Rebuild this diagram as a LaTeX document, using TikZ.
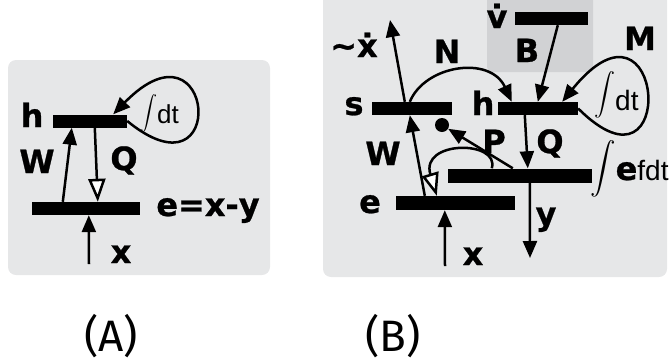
\documentclass[tikz,border=0pt]{standalone}
\usepackage{graphicx}
\usepackage{fontspec}
\setmainfont{Liberation Sans}
\newfontfamily\lblfont[FakeBold=0.8]{DejaVu Sans Bold}
\newfontfamily\capfont{Fira Sans}
\usetikzlibrary{arrows.meta}
\definecolor{panel}{HTML}{E6E7E8}
\definecolor{boxB}{HTML}{D1D2D4}
% scaled integral sign: #1 scale, #2 lift
\newcommand{\bigint}[2]{\raisebox{#2}{\scalebox{#1}{$\displaystyle\int$}}}
\begin{document}
\begin{tikzpicture}[x=1pt, y=-1pt,
		bar/.style = {fill=black, inner sep=0pt, minimum height=13pt},
		lbl/.style = {font=\lblfont\fontsize{32}{32}\selectfont, inner sep=0pt, anchor=base},
		intl/.style = {inner sep=0pt, anchor=base west},
		caption/.style = {font=\capfont\fontsize{44}{44}\selectfont, inner sep=0pt},
		arr/.style = {line width=2.5pt, -{Triangle[length=17pt, width=14pt]}},
		hollow/.style = {line width=2.5pt, -{Triangle[length=23pt, width=17pt, fill=white]}}]
			\useasboundingbox (0,0) rectangle (672,362);
			% panels
			\fill[panel, rounded corners=8pt] (8,60) rectangle (270,275);
			\fill[panel, rounded corners=8pt] (323,-8) rectangle (667,277);
			\fill[boxB, rounded corners=5pt] (487,-6) rectangle (593,72);
			% (A)
			\node[bar, minimum width=74pt] (hA) at (90,121) {};
			\node[bar, minimum width=108pt] (eA) at (86,208.5) {};
			\coordinate (xA) at (89,264);
			\node[lbl] (lhA) at (32,127) {h};
			\node[lbl] (lwA) at (37,173) {W};
			\node[lbl] (lqA) at (124,170) {Q};
			\node[lbl] (leA) at (208,216) {e=x-y};
			\node[lbl] (lxA) at (121,263) {x};
			\node[intl] (idtA) at (140,123) {\bigint{1.7}{5pt}\fontsize{26}{26}\selectfont dt};
			\draw[arr] ([xshift=31pt]eA.north west) -- ([xshift=19pt]hA.south west);
			\draw[hollow] ([xshift=42pt]hA.south west) -- ([xshift=66pt]eA.north west);
			\draw[arr] (xA) -- ([xshift=57pt]eA.south west);
			\draw[arr] (hA.east) .. controls (230,205) and (215,10) .. ([xshift=-14pt]hA.north east);
			% (B)
			\node[bar, minimum width=73pt] (bv) at (551.5,18.5) {};
			\node[bar, minimum width=80pt] (bs) at (412,108.5) {};
			\node[bar, minimum width=80pt] (bh) at (538,108.5) {};
			\node[bar, minimum width=144pt, minimum height=14pt] (bf) at (520,175.5) {};
			\node[bar, minimum width=119pt, minimum height=14pt] (be) at (455.5,203) {};
			\node[circle, fill=black, inner sep=0pt, minimum size=14pt] (dot) at (442,125) {};
			\coordinate (xdot) at (390,20);
			\coordinate (yout) at (530,258);
			\coordinate (xin) at (445,266);
			\node[lbl] (lv) at (497,28) {\.{v}};
			\node[lbl] (lb) at (527,62) {B};
			\node[lbl] (lm) at (640,50) {M};
			\node[lbl] (ln) at (447,63) {N};
			\node[lbl] (lx) at (354,57) {\textasciitilde\.{x}};
			\node[lbl] (ls) at (354,115) {s};
			\node[lbl] (lh) at (483,115) {h};
			\node[intl] (idt) at (594,110) {\bigint{2.1}{10pt}\fontsize{28}{28}\selectfont dt};
			\node[lbl] (lw) at (383,165) {W};
			\node[lbl] (lp) at (494,153) {P};
			\node[lbl] (lq) at (550,153) {Q};
			\node[intl] (ief) at (590,180) {\bigint{2.55}{5pt}\lblfont\fontsize{32}{32}\selectfont e\rmfamily\fontsize{28}{28}\selectfont fdt};
			\node[lbl] (le) at (370,213) {e};
			\node[lbl] (ly) at (546,225) {y};
			\node[lbl] (lxB) at (473,265) {x};
			\draw[arr] ([xshift=33pt]bs.north west) -- (xdot);
			\draw[arr] ([xshift=38pt]bs.north west) .. controls (425,65) and (490,55) .. ([xshift=14pt]bh.north west);
			\draw[arr] ([xshift=43pt]bv.south west) -- ([xshift=40pt]bh.north west);
			\draw[arr] (bh.east) .. controls (680,210) and (665,-25) .. ([xshift=-16pt]bh.north east);
			\draw[arr] ([xshift=27pt]bh.south west) -- ([xshift=80pt]bf.north west);
			\draw[arr] ([xshift=65pt]bf.north west) -- (dot);
			\draw[arr] ([xshift=29pt]be.north west) -- ([xshift=38pt]bs.south west);
			\draw[hollow] ([xshift=44pt]bf.north west) .. controls (500,140) and (420,140) .. ([xshift=41pt]be.north west);
			\draw[arr] ([xshift=82pt]bf.south west) -- (yout);
			\draw[arr] (xin) -- ([xshift=49pt]be.south west);
			% captions
			\node[caption] (capA) at (111,336) {(A)};
			\node[caption] (capB) at (393,336) {(B)};
		\end{tikzpicture}
\end{document}
